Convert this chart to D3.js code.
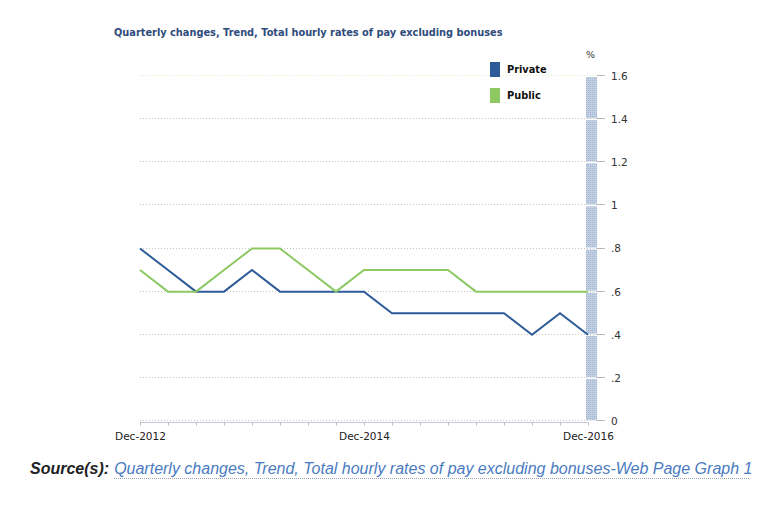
<!DOCTYPE html>
<html>
<head>
<meta charset="utf-8">
<script src="https://cdn.jsdelivr.net/npm/d3@7"></script>
<style>
  body { margin: 0; background: #fff; }
  svg { display: block; }
</style>
</head>
<body>
<div id="chart"></div>
<script>
// quarters, Dec-2012 .. Dec-2016
const quarters = ['Dec-2012','Mar-2013','Jun-2013','Sep-2013','Dec-2013','Mar-2014','Jun-2014','Sep-2014',
  'Dec-2014','Mar-2015','Jun-2015','Sep-2015','Dec-2015','Mar-2016','Jun-2016','Sep-2016','Dec-2016'];
const privateVals = [0.8,0.7,0.6,0.6,0.7,0.6,0.6,0.6,0.6,0.5,0.5,0.5,0.5,0.5,0.4,0.5,0.4];
const publicVals  = [0.7,0.6,0.6,0.7,0.8,0.8,0.7,0.6,0.7,0.7,0.7,0.7,0.6,0.6,0.6,0.6,0.6];
const yTicks = [0,0.2,0.4,0.6,0.8,1,1.2,1.4,1.6];
const xLabels = ['Dec-2012','Dec-2014','Dec-2016'];
const seriesNames = ['Private','Public'];
const colours = ['#2d5b98','#8dc863'];

const W = 771, H = 512;
const svg = d3.select('#chart').append('svg').attr('width', W).attr('height', H);

const x = d3.scalePoint().domain(quarters).range([140, 588]);
const y = d3.scaleLinear().domain([0, 1.6]).range([421, 76]);

// title
svg.append('text')
  .attr('x', 114).attr('y', 36)
  .style('font-family', 'DejaVu Sans, Verdana, sans-serif')
  .style('font-weight', 'bold')
  .style('font-size', '9.8px')
  .style('fill', '#2e4b7c')
  .text('Quarterly changes, Trend, Total hourly rates of pay excluding bonuses');

// hatch pattern for the right axis bar
const defs = svg.append('defs');
const pat = defs.append('pattern').attr('id', 'hatch')
  .attr('width', 2).attr('height', 2).attr('patternUnits', 'userSpaceOnUse');
pat.append('rect').attr('width', 2).attr('height', 2).attr('fill', '#c2cfe2');
pat.append('rect').attr('width', 1).attr('height', 1).attr('fill', '#a3b6d2');

// gridlines
svg.append('g').selectAll('line')
  .data(yTicks)
  .join('line')
  .attr('x1', 140).attr('x2', 600)
  .attr('y1', d => Math.round(y(d)) - 0.5).attr('y2', d => Math.round(y(d)) - 0.5)
  .attr('stroke', d => d === 1.6 ? '#dcefb8' : '#c4c4c4')
  .attr('stroke-dasharray', '1,2');

// right axis bar, split at gridlines
const segs = d3.pairs(yTicks);
svg.append('g').selectAll('rect')
  .data(segs)
  .join('rect')
  .attr('x', 586).attr('width', 11)
  .attr('y', d => y(d[1]) + 1)
  .attr('height', d => y(d[0]) - y(d[1]) - 2)
  .attr('fill', 'url(#hatch)');

// right axis
const yAxis = d3.axisRight(y)
  .tickValues(yTicks)
  .tickSize(0)
  .tickPadding(0)
  .tickFormat(d => d === 0 ? '0' : (d < 1 ? d3.format('.1f')(d).replace(/^0/, '') : d3.format('')(d)));
const ya = svg.append('g').attr('transform', 'translate(611,0)').call(yAxis);
ya.select('.domain').remove();
ya.selectAll('text')
  .style('font-family', 'DejaVu Sans, Verdana, sans-serif')
  .style('font-size', '10.5px')
  .style('fill', '#333');
svg.append('g').selectAll('line')
  .data(yTicks)
  .join('line')
  .attr('x1', 597).attr('x2', 605)
  .attr('y1', d => Math.round(y(d)) - 0.5).attr('y2', d => Math.round(y(d)) - 0.5)
  .attr('stroke', '#b9b9b9');

svg.append('text')
  .attr('x', 586).attr('y', 58)
  .style('font-family', 'DejaVu Sans, Verdana, sans-serif')
  .style('font-size', '9.5px')
  .style('fill', '#333')
  .text('%');

// bottom axis
const xAxis = d3.axisBottom(x).tickSize(3).tickFormat(d => xLabels.includes(d) ? d : '');
const xa = svg.append('g').attr('transform', 'translate(0,422.5)').call(xAxis);
xa.select('.domain').attr('stroke', '#c3cad6').attr('d', 'M140,0H588');
xa.selectAll('.tick line').attr('stroke', '#b5bcc8');
xa.selectAll('text')
  .attr('dy', '1.1em')
  .style('font-family', 'DejaVu Sans, Verdana, sans-serif')
  .style('font-size', '10.5px')
  .style('fill', '#222');

// lines
const line = d3.line().x((d, i) => x(quarters[i])).y(d => y(d));
[privateVals, publicVals].forEach((vals, k) => {
  svg.append('path')
    .datum(vals)
    .attr('d', line)
    .attr('fill', 'none')
    .attr('stroke', colours[k])
    .attr('stroke-width', 2);
});

// legend
const lg = svg.append('g').selectAll('g')
  .data(seriesNames)
  .join('g')
  .attr('transform', (d, i) => `translate(490,${62 + i * 26})`);
lg.append('rect').attr('width', 10).attr('height', 15).attr('fill', (d, i) => colours[i]);
lg.append('text')
  .attr('x', 17).attr('y', 11)
  .style('font-family', 'DejaVu Sans, Verdana, sans-serif')
  .style('font-weight', 'bold')
  .style('font-size', '9.8px')
  .style('fill', '#111')
  .text(d => d);

// source line
const src = svg.append('text')
  .attr('x', 30).attr('y', 474)
  .style('font-family', 'Liberation Sans, Arial, sans-serif')
  .style('font-style', 'italic')
  .style('font-size', '16px');
src.append('tspan').style('font-weight', 'bold').style('fill', '#222').text('Source(s):');
src.append('tspan').attr('dx', 5).style('fill', '#4a7bbf')
  .text('Quarterly changes, Trend, Total hourly rates of pay excluding bonuses-Web Page Graph 1');
svg.append('line')
  .attr('x1', 114).attr('x2', 750).attr('y1', 478.5).attr('y2', 478.5)
  .attr('stroke', '#9aa6b8').attr('stroke-dasharray', '1,1');
</script>
</body>
</html>
